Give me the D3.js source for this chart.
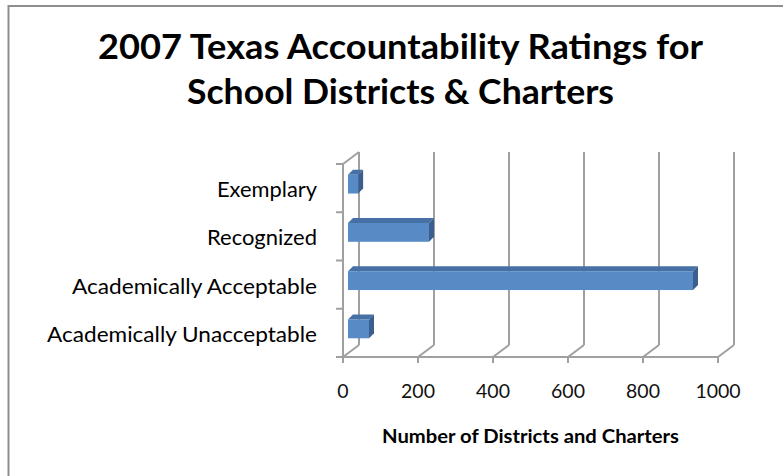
<!DOCTYPE html>
<html><head><meta charset="utf-8">
<script src="https://cdn.jsdelivr.net/npm/d3@7"></script>
<style>html,body{margin:0;padding:0;background:#fff;overflow:hidden}</style>
</head><body>
<svg id="c" width="783" height="476"></svg>
<script>
(function(){
const categories = ["Exemplary", "Recognized", "Academically Acceptable", "Academically Unacceptable"];
const values = [27, 216, 920, 56];
const tickValues = [0, 200, 400, 600, 800, 1000];
const titleLines = ["2007 Texas Accountability Ratings for", "School Districts & Charters"];
const axisTitle = "Number of Districts and Charters";

const svg = d3.select("#c");
const font = "Lato, 'Open Sans', sans-serif";

svg.append("rect").attr("x", 8.5).attr("y", 6).attr("width", 800).attr("height", 500)
  .attr("fill", "#fff").attr("stroke", "#8e8e8e").attr("stroke-width", 2);

const titleW = [605, 427];
titleLines.forEach((t, i) => {
  svg.append("text").attr("x", 400.5).attr("y", 59 + i * 45)
    .attr("text-anchor", "middle").attr("font-family", font).attr("font-weight", "bold")
    .attr("font-size", 35).attr("fill", "#000")
    .attr("textLength", titleW[i]).attr("lengthAdjust", "spacingAndGlyphs").text(t);
});

const x = d3.scaleLinear().domain([0, 1000]).range([343, 718]);
const y = d3.scaleBand().domain(categories).range([164, 357]).padding(0);
const DX = 16, DY = -12;
const bdx = 5, bdy = -4;
const tdx = 5, tdy = -5;
const gridColor = "#a0a0a0";

const g = svg.append("g").attr("fill", "none").attr("stroke", gridColor).attr("stroke-width", 2);
const yTop = y.range()[0], yBot = y.range()[1];
tickValues.forEach(v => {
  const xf = x(v);
  g.append("line").attr("x1", xf + DX).attr("x2", xf + DX).attr("y1", yTop + DY).attr("y2", yBot + DY);
  g.append("line").attr("x1", xf + DX).attr("x2", xf).attr("y1", yBot + DY).attr("y2", yBot);
  g.append("line").attr("x1", xf).attr("x2", xf).attr("y1", yBot).attr("y2", yBot + 6);
});
g.append("line").attr("x1", x(0) - 7).attr("x2", x(1000)).attr("y1", yBot).attr("y2", yBot);
g.append("line").attr("x1", x(0)).attr("x2", x(0)).attr("y1", yTop).attr("y2", yBot);
g.append("line").attr("x1", x(0)).attr("x2", x(0) + DX).attr("y1", yTop).attr("y2", yTop + DY);
const bounds = categories.map(c => y(c)).concat([yBot]);
bounds.forEach(b => {
  g.append("line").attr("x1", x(0) - 7).attr("x2", x(0)).attr("y1", b).attr("y2", b);
});

const bh = y.bandwidth() * 0.39;
categories.forEach((c, i) => {
  const cy = y(c) + y.bandwidth() / 2 + bdy;
  const x0 = x(0) + bdx, x1 = x(values[i]) + bdx;
  const y0 = cy - bh / 2, y1 = cy + bh / 2;
  svg.append("path").attr("d", `M${x0},${y0}L${x0 + tdx},${y0 + tdy}L${x1 + tdx},${y0 + tdy}L${x1},${y0}Z`)
    .attr("fill", "#4670a6");
  svg.append("path").attr("d", `M${x1},${y0}L${x1 + tdx},${y0 + tdy}L${x1 + tdx},${y1 + tdy}L${x1},${y1}Z`)
    .attr("fill", "#3a5f8f");
  svg.append("rect").attr("x", x0).attr("y", y0).attr("width", x1 - x0).attr("height", bh)
    .attr("fill", "#588bc6");
});

const labW = [100, 110, 245, 270];
categories.forEach((c, i) => {
  svg.append("text").attr("x", 317).attr("y", y(c) + y.bandwidth() / 2 + 9)
    .attr("text-anchor", "end").attr("font-family", font).attr("font-size", 20.5).attr("fill", "#000")
    .attr("textLength", labW[i]).attr("lengthAdjust", "spacingAndGlyphs").text(c);
});

tickValues.forEach(v => {
  svg.append("text").attr("x", x(v)).attr("y", 398).attr("text-anchor", "middle")
    .attr("font-family", font).attr("font-size", 19.5).attr("fill", "#111").text(v);
});

svg.append("text").attr("x", 530.5).attr("y", 443).attr("text-anchor", "middle")
  .attr("font-family", font).attr("font-weight", "bold").attr("font-size", 18.5).attr("fill", "#000")
  .attr("textLength", 297).attr("lengthAdjust", "spacingAndGlyphs").text(axisTitle);
})();
</script>
</body></html>
